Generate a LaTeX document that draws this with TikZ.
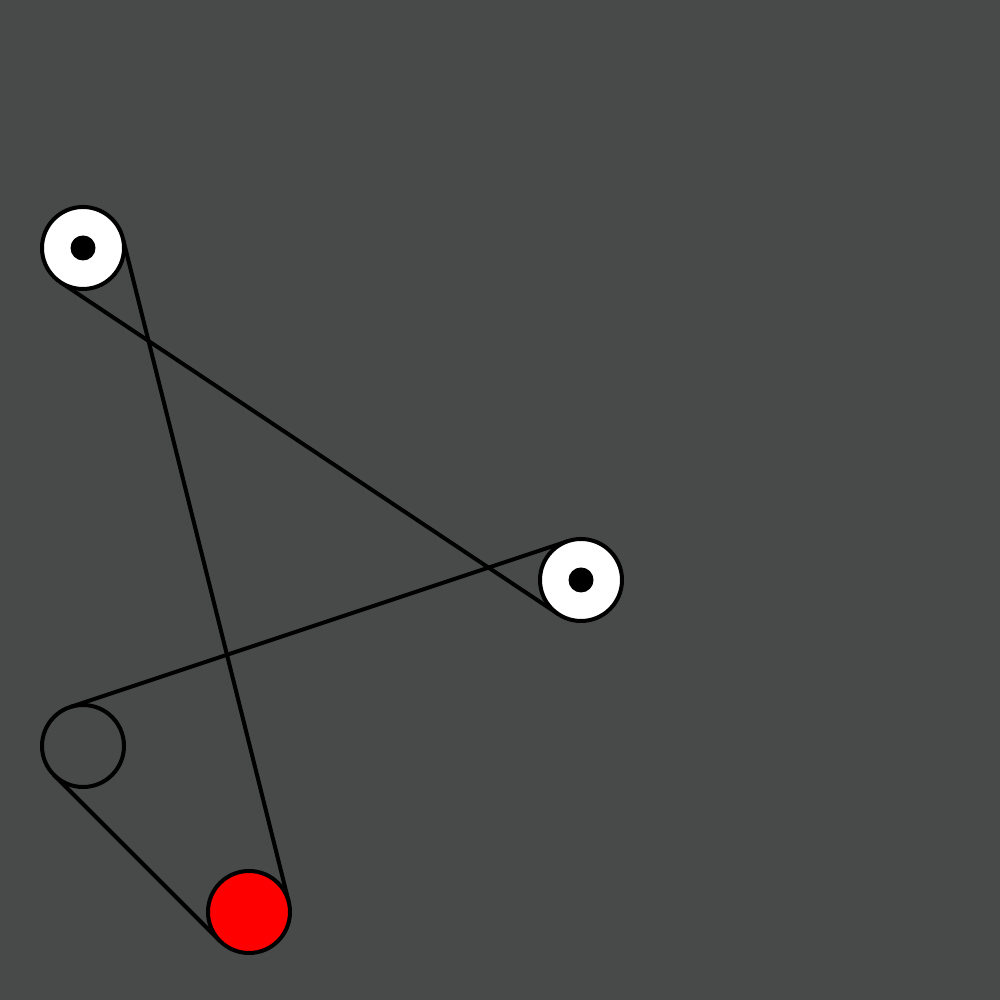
\documentclass[tikz,border=0pt]{standalone}
\usepackage{xcolor}
\usepackage{tikz}
\usetikzlibrary{calc, backgrounds}
\definecolor{board}{RGB}{72,73,73}

\begin{document}
\begin{tikzpicture}[line width=0.04cm,
		pulley/.style={draw, circle, inner sep=0pt, minimum size=0.82cm},
		hub/.style={fill=black, circle, inner sep=0pt, minimum size=0.25cm},
		belt/.style={draw, line width=0.04cm}]
		\useasboundingbox (0,0) rectangle (10,10);
		
		\node[pulley, fill=white] (top pulley)   at (0.83, 7.52) {};
		\node[hub]                (top hub)      at (top pulley.center) {};
		\node[pulley, fill=white] (right pulley) at (5.81, 4.20) {};
		\node[hub]                (right hub)    at (right pulley.center) {};
		\node[pulley]             (idler)        at (0.83, 2.54) {};
		\node[pulley, fill=red]   (drive)        at (2.49, 0.88) {};
		
		%---------
		\begin{pgfonlayer}{background}
			\fill[board] (0,0) rectangle (10,10);
			\path[belt] ($(top pulley.center)!0.41cm!90:(drive.center)$)--($(drive.center)!0.41cm!-90:(top pulley.center)$);
			\path[belt] ($(top pulley.center)!0.41cm!-90:(right pulley.center)$)--($(right pulley.center)!0.41cm!90:(top pulley.center)$);
			\path[belt] ($(right pulley.center)!0.41cm!-90:(idler.center)$)--($(idler.center)!0.41cm!90:(right pulley.center)$);
			\path[belt] ($(idler.center)!0.41cm!-90:(drive.center)$)--($(drive.center)!0.41cm!90:(idler.center)$);
		\end{pgfonlayer}
	\end{tikzpicture}
\end{document}
